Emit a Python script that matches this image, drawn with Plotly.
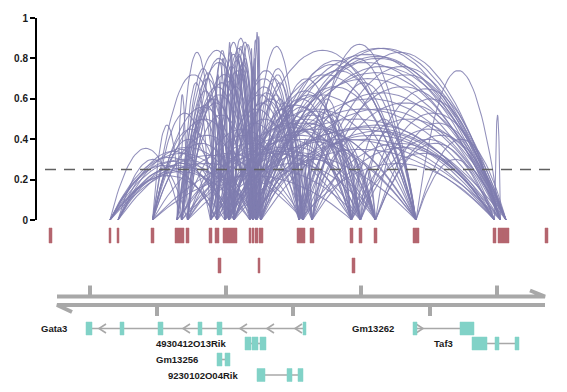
import numpy as np
import plotly.graph_objects as go

# ---------------- data (genomic positions in window units) ----------------
peak_start = [49, 109, 117, 151, 175, 179, 186, 209, 215, 223, 227, 231, 249, 252, 255, 259,
              297, 301, 310, 350, 359, 374, 413, 493, 498, 503, 545]
peak_end = [52, 111, 119, 154, 179, 184, 189, 212, 219, 227, 231, 237, 251, 254, 258, 263,
            301, 305, 314, 353, 362, 377, 419, 496, 503, 509, 548]
peak2_start = [218, 258, 352]
peak2_end = [221, 260, 355]

conn_from = ([1] * 10 + [2] * 7 + [3] * 12 + [4] * 7 + [5] * 11 + [6] * 8 + [7] * 13 + [8] * 12 +
             [9] * 11 + [10] * 14 + [11] * 12 + [12] * 12 + [13] * 8 + [14] * 9 + [15] * 8 +
             [16] * 9 + [17] * 7 + [18] * 6 + [19] * 5 + [20] * 3 + [21] * 3 + [22] * 3 + [23] +
             [3, 4, 6, 6, 7, 9, 11, 13, 14, 15, 17, 18, 19, 20, 20, 21, 13, 12, 10, 4, 6])
conn_to = [5, 8, 10, 11, 13, 14, 15, 17, 9, 12,
           6, 10, 14, 12, 17, 8, 11,
           5, 8, 11, 10, 14, 15, 7, 12, 17, 9, 13, 19,
           6, 8, 10, 12, 14, 15, 11,
           7, 9, 10, 11, 12, 13, 14, 15, 17, 22, 20,
           8, 10, 11, 12, 14, 15, 16, 18,
           8, 9, 10, 11, 12, 13, 14, 15, 16, 17, 19, 22, 21,
           9, 10, 11, 12, 13, 14, 15, 17, 18, 20, 22, 24,
           11, 12, 13, 14, 15, 16, 17, 19, 22, 24, 21,
           11, 12, 13, 14, 15, 16, 17, 18, 19, 20, 22, 24, 25, 23,
           12, 13, 14, 15, 16, 17, 19, 21, 22, 24, 25, 20,
           13, 14, 15, 16, 17, 18, 19, 20, 22, 24, 25, 23,
           14, 15, 16, 17, 19, 22, 24, 21,
           15, 16, 17, 18, 20, 21, 22, 24, 25,
           16, 17, 19, 20, 21, 22, 24, 25,
           17, 18, 19, 20, 21, 22, 24, 25, 23,
           19, 20, 21, 22, 24, 25, 23,
           19, 20, 21, 22, 24, 25,
           20, 22, 24, 25, 23,
           22, 24, 25,
           22, 24, 25,
           24, 25, 23,
           24,
           22, 22, 22, 24, 24, 25, 23, 25, 23, 23, 18, 23, 21, 21, 23, 23, 20, 21, 21, 19, 20]
conn_score = [0.355, 0.27, 0.31, 0.29, 0.33, 0.30, 0.26, 0.28, 0.22, 0.24,
              0.30, 0.34, 0.36, 0.28, 0.32, 0.25, 0.27,
              0.47, 0.53, 0.72, 0.45, 0.50, 0.42, 0.35, 0.38, 0.33, 0.40, 0.56, 0.22,
              0.62, 0.83, 0.50, 0.60, 0.84, 0.62, 0.57,
              0.68, 0.75, 0.64, 0.70, 0.58, 0.66, 0.78, 0.52, 0.45, 0.40, 0.25,
              0.55, 0.73, 0.60, 0.80, 0.68, 0.72, 0.42, 0.38,
              0.60, 0.72, 0.78, 0.84, 0.69, 0.76, 0.82, 0.66, 0.48, 0.55, 0.36, 0.45, 0.28,
              0.50, 0.80, 0.70, 0.88, 0.73, 0.79, 0.85, 0.62, 0.50, 0.40, 0.55, 0.45,
              0.88, 0.74, 0.82, 0.90, 0.77, 0.58, 0.70, 0.48, 0.62, 0.55, 0.32,
              0.83, 0.81, 0.86, 0.75, 0.88, 0.66, 0.74, 0.60, 0.52, 0.57, 0.84, 0.78, 0.70, 0.35,
              0.78, 0.72, 0.80, 0.87, 0.63, 0.59, 0.46, 0.50, 0.72, 0.82, 0.60, 0.36,
              0.85, 0.76, 0.89, 0.70, 0.86, 0.55, 0.60, 0.64, 0.77, 0.73, 0.80, 0.42,
              0.80, 0.93, 0.62, 0.75, 0.56, 0.66, 0.81, 0.30,
              0.91, 0.72, 0.68, 0.58, 0.62, 0.54, 0.79, 0.85, 0.76,
              0.60, 0.52, 0.70, 0.48, 0.40, 0.74, 0.63, 0.85,
              0.32, 0.40, 0.55, 0.45, 0.38, 0.80, 0.83, 0.66, 0.28,
              0.60, 0.52, 0.42, 0.87, 0.76, 0.58, 0.38,
              0.46, 0.38, 0.35, 0.68, 0.72, 0.50,
              0.30, 0.50, 0.65, 0.45, 0.33,
              0.44, 0.60, 0.53,
              0.36, 0.48, 0.42,
              0.74, 0.40, 0.30,
              0.52,
              0.34, 0.42, 0.48, 0.40, 0.50, 0.46, 0.40, 0.55, 0.47, 0.44, 0.30, 0.36, 0.28,
              0.25, 0.40, 0.38, 0.45, 0.52, 0.44, 0.35, 0.33]
coaccess_cutoff = 0.25
y_ticks = [0, 0.2, 0.4, 0.6, 0.8, 1]
y_ticktext = ["0", "0.2", "0.4", "0.6", "0.8", "1"]

window_start, window_end = 57, 545
axis_ticks_top = [90, 226, 361, 497]
axis_ticks_bottom = [157, 293, 430]

gene_names = ["Gata3", "Gm13262", "4930412O13Rik", "Taf3", "Gm13256", "9230102O04Rik"]
gene_row = [0, 0, 1, 1, 2, 3]
gene_strand = ["-", "+", "-", "+", "-", "+"]
gene_exon_starts = [[86, 120, 158, 198, 217, 303], [413, 460], [245, 252, 260],
                    [472, 495, 515], [217, 225], [257, 287, 298]]
gene_exon_ends = [[92, 124, 163, 202, 222, 306], [417, 474], [251, 258, 266],
                  [487, 499, 519], [222, 230], [265, 292, 303]]
gene_arrows = [[99, 183, 240, 267, 295], [423], [], [], [], []]

# ---------------- styling / layout constants ----------------
W, H = 567, 392
ARC_Y0, ARC_Y1 = 220, 18          # pixel rows of coaccess 0 and 1
ROW1, ROW2 = (228, 243), (258, 273)
AX_TOP, AX_BOT = 296.5, 305
ROW_Y = [328.5, 343.5, 359.5, 375]
EXON_H = 6.5
CONN_COLOR = "rgba(127,124,175,0.85)"
PEAK_COLOR = "#B4656F"
GENE_COLOR = "#81D2C7"
GREY = "#A8A8A8"

fig = go.Figure()

# arcs
t = np.linspace(0, 1, 41)
ax, ay = [], []
for a, b, s in zip(conn_from, conn_to, conn_score):
    x1 = (peak_start[a] + peak_end[a]) / 2
    x2 = (peak_start[b] + peak_end[b]) / 2
    ax += list(x1 + (x2 - x1) * t) + [None]
    ay += list(s * 4 * t * (1 - t)) + [None]
fig.add_trace(go.Scatter(x=ax, y=ay, mode="lines", line=dict(color=CONN_COLOR, width=1.05),
                         hoverinfo="skip", xaxis="x", yaxis="y"))


def rects(starts, ends, y0, y1):
    xs, ys = [], []
    for s, e in zip(starts, ends):
        xs += [s, e, e, s, s, None]
        ys += [y0, y0, y1, y1, y0, None]
    return xs, ys


# peaks
for (st, en), (y0, y1) in [((peak_start, peak_end), ROW1), ((peak2_start, peak2_end), ROW2)]:
    xs, ys = rects(st, en, y0, y1)
    fig.add_trace(go.Scatter(x=xs, y=ys, mode="lines", fill="toself", fillcolor=PEAK_COLOR,
                             line=dict(width=0.5, color=PEAK_COLOR), hoverinfo="skip",
                             xaxis="x", yaxis="y2"))

# genome axis
gx = [window_start, window_end, window_end - 15, None, window_start + 15, window_start, window_end]
gy = [AX_TOP, AX_TOP, AX_TOP - 6, None, AX_BOT + 7, AX_BOT, AX_BOT]
for tk in axis_ticks_top:
    gx += [None, tk, tk]
    gy += [None, AX_TOP, AX_TOP - 11]
for tk in axis_ticks_bottom:
    gx += [None, tk, tk]
    gy += [None, AX_BOT, AX_BOT + 11]
fig.add_trace(go.Scatter(x=gx, y=gy, mode="lines", line=dict(color=GREY, width=4),
                         hoverinfo="skip", xaxis="x", yaxis="y2"))

# gene models
lx, ly = [], []
ex_x, ex_y = [], []
for name, row, strand, es, ee, arr in zip(gene_names, gene_row, gene_strand,
                                          gene_exon_starts, gene_exon_ends, gene_arrows):
    yc = ROW_Y[row]
    lx += [min(es), max(ee), None]
    ly += [yc, yc, None]
    for p in arr:
        d = 7 if strand == "-" else -7
        lx += [p + d, p, p + d, None]
        ly += [yc - 4.5, yc, yc + 4.5, None]
    xs, ys = rects(es, ee, yc - EXON_H, yc + EXON_H)
    ex_x += xs
    ex_y += ys
    fig.add_annotation(x=min(es) - 17, y=yc, xref="x", yref="y2", text=name, showarrow=False,
                       xanchor="right", yanchor="middle",
                       font=dict(family="Liberation Sans, Arial", size=9.5, color="#1a1a1a", weight="bold"))
fig.add_trace(go.Scatter(x=lx, y=ly, mode="lines", line=dict(color=GREY, width=1.6),
                         hoverinfo="skip", xaxis="x", yaxis="y2"))
fig.add_trace(go.Scatter(x=ex_x, y=ex_y, mode="lines", fill="toself", fillcolor=GENE_COLOR,
                         line=dict(width=0.5, color=GENE_COLOR), hoverinfo="skip",
                         xaxis="x", yaxis="y2"))

# cutoff line
fig.add_shape(type="line", xref="x", yref="y", x0=45, x1=557, y0=coaccess_cutoff, y1=coaccess_cutoff,
              line=dict(color="#606060", width=1.5, dash="11px,8px"), layer="above")

fig.update_layout(
    width=W, height=H, margin=dict(l=0, r=0, t=0, b=0, pad=0), autosize=False,
    paper_bgcolor="white", plot_bgcolor="rgba(0,0,0,0)", showlegend=False,
    xaxis=dict(range=[0, W], domain=[0, 1], visible=False, fixedrange=True, anchor="y2"),
    yaxis=dict(range=[0, 1], domain=[1 - ARC_Y0 / H, 1 - ARC_Y1 / H], anchor="free",
               position=36 / W, showgrid=False, zeroline=False, showline=True, automargin=False,
               linecolor="black", linewidth=2, ticks="outside", ticklen=5, tickwidth=2,
               tickcolor="black", tickvals=y_ticks, ticktext=y_ticktext,
               tickfont=dict(family="Liberation Sans, Arial", size=10, color="#1a1a1a", weight="bold")),
    yaxis2=dict(range=[H, ARC_Y0], domain=[0, 1 - ARC_Y0 / H], visible=False, anchor="x"),
)
fig.write_html("out.html", config={"displayModeBar": False},
               post_script="document.body.style.margin='0';document.body.style.overflow='hidden';")
